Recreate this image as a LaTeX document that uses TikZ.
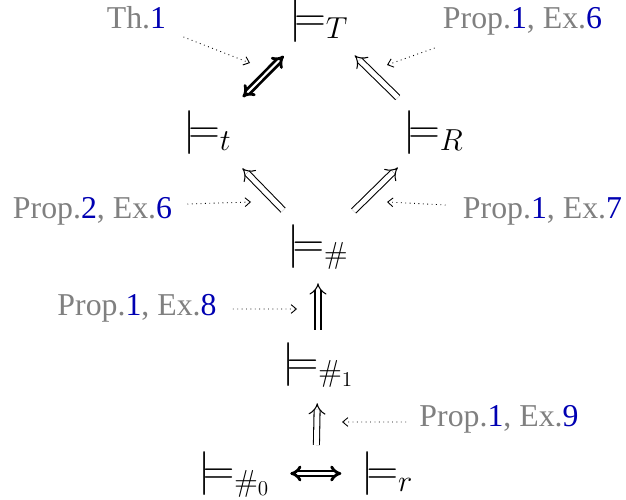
\documentclass[tikz,border=0pt]{standalone}
\usepackage[no-math]{fontspec}
\setmainfont{Liberation Serif}
\usepackage{amsmath}
\usepackage{amssymb}
\usepackage{xcolor}
\usetikzlibrary{arrows.meta, calc}

\definecolor{refblue}{rgb}{0,0,0.7}
\newcommand{\refnum}[1]{\textcolor{refblue}{#1}}

\tikzset{
  sem/.style={inner sep=0pt, text height=19.1pt, text depth=6.4pt,
    font=\fontsize{25.5}{30}\selectfont},
  lbl/.style={anchor=base, inner sep=0pt, text=gray,
    font=\fontsize{18.1}{22}\selectfont},
  imp/.style={double, double distance=2.8pt, line width=0.6pt, -{Implies}},
  eqv/.style={double, double distance=1.2pt, line width=1.6pt,
    {Implies[scale=1.3]}-{Implies[scale=1.3]}},
  diag/.style={shorten <=1cm, shorten >=1cm},
  ref/.style={dotted, line width=0.5pt, -{Straight Barb[length=3pt,width=5pt]}}
}

\begin{document}
\begin{tikzpicture}
\useasboundingbox (0,0) rectangle (12.52,9.98);

% ========== satisfaction relations ==========
\node[sem] (T) at (6.38,9.57) {$\models_T$};
\node[sem] (t) at (4.15,7.33) {$\models_t$};
\node[sem] (R) at (8.67,7.33) {$\models_R$};
\node[sem] (hash) at (6.36,5.06) {$\models_{\#}$};
\node[sem] (hashone) at (6.36,2.70) {$\models_{\#_1}$};
\node[sem] (hashzero) at (4.68,0.51) {$\models_{\#_0}$};
\node[sem] (r) at (7.75,0.51) {$\models_r$};

% ========== implications ==========
\draw[eqv, diag] (t.center) -- (T.center);
\draw[imp, diag] (R.center) -- (T.center);
\draw[imp, diag] (hash.center) -- (t.center);
\draw[imp, diag] (hash.center) -- (R.center);
\draw[imp, shorten <=0.23cm, shorten >=0.29cm] (hashone) -- (hash);

% bottom row: equivalence, then up to #1
\draw[eqv, shorten <=0.4cm, shorten >=0.4cm] (hashzero) -- (r);
\coordinate (bot) at ($(hashzero.east)!0.5!(r.west)$);
\draw[imp, shorten <=0.57cm, shorten >=0.33cm] (bot) -- (hashone);

% ========== references ==========
\node[lbl] (lbTh) at (2.73,9.41) {Th.\refnum{1}};
\node[lbl] (lbTop) at (10.45,9.41) {Prop.\refnum{1}, Ex.\refnum{6}};
\node[lbl] (lbLeft) at (1.85,5.60) {Prop.\refnum{2}, Ex.\refnum{6}};
\node[lbl] (lbRight) at (10.85,5.60) {Prop.\refnum{1}, Ex.\refnum{7}};
\node[lbl] (lbMid) at (2.74,3.68) {Prop.\refnum{1}, Ex.\refnum{8}};
\node[lbl] (lbLow) at (9.98,1.46) {Prop.\refnum{1}, Ex.\refnum{9}};

\coordinate (tgTh) at (5.00,8.72);
\coordinate (tgTop) at (7.74,8.68);
\coordinate (tgLeft) at (5.02,5.94);
\coordinate (tgRight) at (7.74,5.94);
\coordinate (tgMid) at (5.94,3.80);
\coordinate (tgLow) at (6.84,1.54);

\draw[ref] ([shift={(0.34,-0.17)}]lbTh.base east) -- (tgTh);
\draw[ref] ([shift={(-0.16,-0.39)}]lbTop.base west) -- (tgTop);
\draw[ref] ([shift={(0.30,0.30)}]lbLeft.base east) -- (tgLeft);
\draw[ref] ([shift={(-0.34,0.28)}]lbRight.base west) -- (tgRight);
\draw[ref] ([shift={(0.32,0.12)}]lbMid.base east) -- (tgMid);
\draw[ref] ([shift={(-0.26,0.08)}]lbLow.base west) -- (tgLow);

\end{tikzpicture}
\end{document}
